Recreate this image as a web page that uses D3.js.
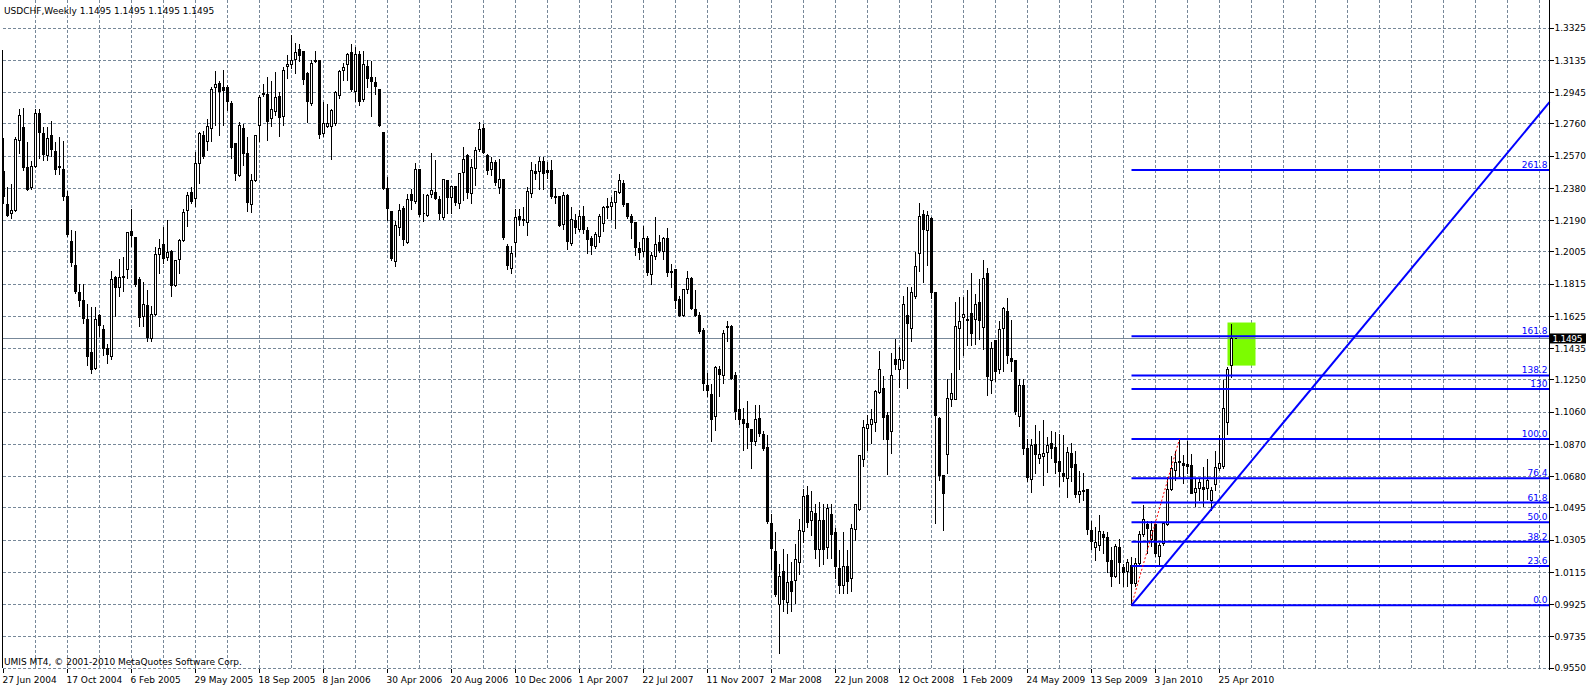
<!DOCTYPE html>
<html>
<head>
<meta charset="utf-8">
<script src="https://cdnjs.cloudflare.com/ajax/libs/d3/7.8.5/d3.min.js"></script>
<style>
  body { margin: 0; background: #fff; overflow: hidden; }
  svg text { font-family: Tahoma, "DejaVu Sans", sans-serif; font-size: 9px; }
</style>
</head>
<body>
<div id="chart"></div>
<script>
var svgWidth = 1586;
var svgHeight = 687;

// plot box (right edge = price axis line)
var plot = { left: 2.5, right: 1549.5, top: 0, bottom: 668.2 };

var titleText = 'USDCHF,Weekly  1.1495 1.1495 1.1495 1.1495';
var copyrightText = 'UMIS MT4, \u00a9 2001-2010 MetaQuotes Software Corp.';

var priceTicks = ['1.3325', '1.3135', '1.2945', '1.2760', '1.2570', '1.2380', '1.2190',
  '1.2005', '1.1815', '1.1625', '1.1435', '1.1250', '1.1060', '1.0870', '1.0680',
  '1.0495', '1.0305', '1.0115', '0.9925', '0.9735', '0.9550'];

// one label every 16 weekly bars, starting at bar 0
var dateTicks = ['27 Jun 2004', '17 Oct 2004', '6 Feb 2005', '29 May 2005', '18 Sep 2005',
  '8 Jan 2006', '30 Apr 2006', '20 Aug 2006', '10 Dec 2006', '1 Apr 2007', '22 Jul 2007',
  '11 Nov 2007', '2 Mar 2008', '22 Jun 2008', '12 Oct 2008', '1 Feb 2009', '24 May 2009',
  '13 Sep 2009', '3 Jan 2010', '25 Apr 2010'];

var lastPrice = 1.1495;

// weekly bars: [open, high, low, close]
var bars = [
  [1.2479, 1.2681, 1.2292, 1.2331], [1.2288, 1.2390, 1.2213, 1.2223], [1.2233, 1.2410, 1.2203, 1.2251],
  [1.2251, 1.2689, 1.2243, 1.2671], [1.2665, 1.2850, 1.2587, 1.2813], [1.2740, 1.2858, 1.2488, 1.2502],
  [1.2502, 1.2655, 1.2370, 1.2376], [1.2386, 1.2543, 1.2374, 1.2508], [1.2508, 1.2852, 1.2504, 1.2823],
  [1.2823, 1.2850, 1.2557, 1.2710], [1.2705, 1.2744, 1.2543, 1.2579], [1.2573, 1.2748, 1.2543, 1.2675],
  [1.2693, 1.2779, 1.2567, 1.2610], [1.2600, 1.2655, 1.2465, 1.2492], [1.2508, 1.2685, 1.2465, 1.2506],
  [1.2492, 1.2665, 1.2307, 1.2331], [1.2333, 1.2370, 1.2095, 1.2107], [1.2064, 1.2138, 1.1918, 1.1942],
  [1.1928, 1.2129, 1.1761, 1.1769], [1.1767, 1.1820, 1.1686, 1.1720], [1.1720, 1.1820, 1.1584, 1.1611],
  [1.1604, 1.1702, 1.1338, 1.1387], [1.1411, 1.1686, 1.1289, 1.1313], [1.1319, 1.1682, 1.1309, 1.1604],
  [1.1633, 1.1643, 1.1505, 1.1572], [1.1545, 1.1580, 1.1397, 1.1437], [1.1437, 1.1466, 1.1348, 1.1403],
  [1.1387, 1.1893, 1.1368, 1.1844], [1.1853, 1.1869, 1.1623, 1.1796], [1.1796, 1.1965, 1.1741, 1.1855],
  [1.1855, 1.1977, 1.1771, 1.1859], [1.1899, 1.2125, 1.1849, 1.2119], [1.2123, 1.2262, 1.2036, 1.2101],
  [1.2091, 1.2095, 1.1800, 1.1814], [1.1844, 1.1859, 1.1564, 1.1619], [1.1623, 1.1830, 1.1568, 1.1698],
  [1.1692, 1.1781, 1.1476, 1.1501], [1.1495, 1.1692, 1.1476, 1.1639], [1.1639, 1.2036, 1.1633, 1.1993],
  [1.1991, 1.2085, 1.1879, 1.2026], [1.2052, 1.2154, 1.1938, 1.1967], [1.1973, 1.2197, 1.1957, 1.2001],
  [1.2007, 1.2017, 1.1741, 1.1806], [1.1810, 1.1957, 1.1800, 1.1952], [1.1961, 1.2085, 1.1879, 1.2070],
  [1.2072, 1.2262, 1.2066, 1.2235], [1.2251, 1.2361, 1.2154, 1.2337], [1.2353, 1.2390, 1.2292, 1.2302],
  [1.2321, 1.2597, 1.2272, 1.2528], [1.2528, 1.2715, 1.2410, 1.2701], [1.2695, 1.2724, 1.2557, 1.2567],
  [1.2659, 1.2793, 1.2606, 1.2744], [1.2734, 1.2980, 1.2655, 1.2964], [1.2976, 1.3074, 1.2754, 1.2994],
  [1.3000, 1.3019, 1.2695, 1.2950], [1.2976, 1.3082, 1.2754, 1.2960], [1.2976, 1.2990, 1.2842, 1.2891],
  [1.2881, 1.2901, 1.2557, 1.2622], [1.2642, 1.2646, 1.2425, 1.2469], [1.2455, 1.2773, 1.2449, 1.2754],
  [1.2734, 1.2763, 1.2518, 1.2587], [1.2583, 1.2689, 1.2243, 1.2296], [1.2288, 1.2469, 1.2237, 1.2425],
  [1.2425, 1.2695, 1.2419, 1.2691], [1.2754, 1.2931, 1.2655, 1.2917], [1.2935, 1.3000, 1.2921, 1.2940],
  [1.2931, 1.3043, 1.2665, 1.2773], [1.2793, 1.3019, 1.2744, 1.2848], [1.2832, 1.3068, 1.2813, 1.2917],
  [1.2921, 1.2950, 1.2689, 1.2799], [1.2803, 1.3098, 1.2754, 1.3074], [1.3098, 1.3172, 1.3029, 1.3108],
  [1.3108, 1.3290, 1.3088, 1.3137], [1.3141, 1.3239, 1.3058, 1.3182], [1.3202, 1.3235, 1.3127, 1.3163],
  [1.3190, 1.3196, 1.2990, 1.3023], [1.3058, 1.3068, 1.2767, 1.2891], [1.2881, 1.3141, 1.2872, 1.3117],
  [1.3133, 1.3192, 1.3123, 1.3127], [1.3137, 1.3141, 1.2675, 1.2699], [1.2705, 1.2891, 1.2685, 1.2763],
  [1.2748, 1.2881, 1.2740, 1.2763], [1.2748, 1.2852, 1.2551, 1.2842], [1.2760, 1.2960, 1.2754, 1.2946],
  [1.2927, 1.3082, 1.2911, 1.3072], [1.3074, 1.3123, 1.3015, 1.3094], [1.3108, 1.3180, 1.3019, 1.3172],
  [1.3180, 1.3235, 1.2950, 1.2966], [1.2954, 1.3216, 1.2891, 1.3172], [1.3167, 1.3196, 1.2872, 1.2891],
  [1.2905, 1.3192, 1.2891, 1.3108], [1.3102, 1.3141, 1.2976, 1.3029], [1.3033, 1.3137, 1.2803, 1.3009],
  [1.3003, 1.3039, 1.2931, 1.2980], [1.2966, 1.2970, 1.2744, 1.2750], [1.2710, 1.2714, 1.2374, 1.2380],
  [1.2380, 1.2449, 1.2193, 1.2262], [1.2243, 1.2252, 1.1954, 1.1967], [1.1948, 1.2193, 1.1918, 1.2164],
  [1.2150, 1.2290, 1.2100, 1.2252], [1.2263, 1.2282, 1.2046, 1.2076], [1.2062, 1.2351, 1.2056, 1.2312],
  [1.2347, 1.2381, 1.2253, 1.2308], [1.2302, 1.2532, 1.2292, 1.2493], [1.2489, 1.2499, 1.2213, 1.2227],
  [1.2233, 1.2351, 1.2184, 1.2231], [1.2219, 1.2351, 1.2217, 1.2337], [1.2345, 1.2593, 1.2327, 1.2365],
  [1.2357, 1.2548, 1.2312, 1.2322], [1.2316, 1.2341, 1.2194, 1.2233], [1.2209, 1.2440, 1.2194, 1.2430],
  [1.2424, 1.2430, 1.2233, 1.2326], [1.2326, 1.2400, 1.2233, 1.2390], [1.2394, 1.2400, 1.2282, 1.2296],
  [1.2292, 1.2473, 1.2263, 1.2469], [1.2473, 1.2626, 1.2308, 1.2552], [1.2577, 1.2587, 1.2322, 1.2355],
  [1.2351, 1.2557, 1.2292, 1.2504], [1.2498, 1.2626, 1.2400, 1.2603], [1.2607, 1.2774, 1.2597, 1.2730],
  [1.2734, 1.2764, 1.2583, 1.2591], [1.2577, 1.2587, 1.2465, 1.2483], [1.2489, 1.2567, 1.2459, 1.2534],
  [1.2534, 1.2548, 1.2400, 1.2414], [1.2386, 1.2557, 1.2351, 1.2434], [1.2434, 1.2440, 1.2076, 1.2090],
  [1.2036, 1.2056, 1.1899, 1.1928], [1.1909, 1.2046, 1.1879, 1.1997], [1.2062, 1.2263, 1.1977, 1.2209],
  [1.2213, 1.2263, 1.2164, 1.2194], [1.2194, 1.2272, 1.2164, 1.2188], [1.2178, 1.2394, 1.2105, 1.2361],
  [1.2351, 1.2538, 1.2327, 1.2483], [1.2477, 1.2528, 1.2430, 1.2469], [1.2479, 1.2567, 1.2371, 1.2538],
  [1.2538, 1.2567, 1.2375, 1.2469], [1.2485, 1.2538, 1.2440, 1.2473], [1.2483, 1.2552, 1.2322, 1.2335],
  [1.2335, 1.2386, 1.2292, 1.2327], [1.2331, 1.2341, 1.2154, 1.2160], [1.2170, 1.2361, 1.2135, 1.2341],
  [1.2341, 1.2351, 1.2017, 1.2066], [1.2056, 1.2272, 1.2046, 1.2194], [1.2188, 1.2233, 1.2115, 1.2149],
  [1.2135, 1.2253, 1.2125, 1.2217], [1.2213, 1.2282, 1.2115, 1.2135], [1.2129, 1.2154, 1.1997, 1.2076],
  [1.2086, 1.2105, 1.1993, 1.2046], [1.2036, 1.2125, 1.2027, 1.2111], [1.2095, 1.2230, 1.2060, 1.2213],
  [1.2174, 1.2282, 1.2125, 1.2268], [1.2276, 1.2327, 1.2204, 1.2268], [1.2272, 1.2331, 1.2194, 1.2298],
  [1.2298, 1.2367, 1.2145, 1.2361], [1.2355, 1.2469, 1.2351, 1.2424], [1.2410, 1.2430, 1.2276, 1.2286],
  [1.2292, 1.2296, 1.2204, 1.2213], [1.2217, 1.2233, 1.2086, 1.2180], [1.2178, 1.2184, 1.1987, 1.2030],
  [1.2027, 1.2066, 1.1958, 1.2003], [1.2007, 1.2164, 1.1977, 1.2086], [1.2086, 1.2105, 1.1869, 1.1883],
  [1.1875, 1.2007, 1.1814, 1.1987], [1.1981, 1.2217, 1.1958, 1.2052], [1.2062, 1.2111, 1.2001, 1.2013],
  [1.2007, 1.2095, 1.1958, 1.2086], [1.2082, 1.2150, 1.1859, 1.1885], [1.1889, 1.1938, 1.1797, 1.1883],
  [1.1899, 1.1903, 1.1673, 1.1718], [1.1726, 1.1751, 1.1624, 1.1633], [1.1633, 1.1791, 1.1624, 1.1781],
  [1.1781, 1.1893, 1.1761, 1.1846], [1.1846, 1.1859, 1.1663, 1.1673], [1.1663, 1.1785, 1.1624, 1.1633],
  [1.1628, 1.1653, 1.1525, 1.1535], [1.1539, 1.1561, 1.1187, 1.1230], [1.1220, 1.1293, 1.1152, 1.1187],
  [1.1165, 1.1230, 1.0886, 1.1018], [1.1034, 1.1333, 1.0951, 1.1325], [1.1309, 1.1333, 1.1152, 1.1283],
  [1.1279, 1.1549, 1.1230, 1.1525], [1.1561, 1.1598, 1.1476, 1.1565], [1.1565, 1.1580, 1.1254, 1.1260],
  [1.1279, 1.1299, 1.1014, 1.1063], [1.1073, 1.1191, 1.0985, 1.1014], [1.1014, 1.1089, 1.0837, 1.0994],
  [1.0994, 1.1128, 1.0847, 1.0969], [1.0959, 1.0965, 1.0729, 1.0886], [1.0886, 1.1103, 1.0861, 1.1018],
  [1.1024, 1.1107, 1.0916, 1.0935], [1.0931, 1.0955, 1.0833, 1.0847], [1.0853, 1.0931, 1.0405, 1.0414],
  [1.0405, 1.0464, 1.0133, 1.0257], [1.0241, 1.0356, 0.9972, 0.9982], [0.9927, 1.0169, 0.9638, 1.0090],
  [1.0120, 1.0257, 0.9884, 0.9956], [0.9937, 1.0228, 0.9870, 1.0055], [1.0061, 1.0178, 0.9884, 1.0002],
  [1.0066, 1.0287, 0.9933, 1.0189], [1.0173, 1.0434, 1.0100, 1.0365], [1.0355, 1.0611, 1.0290, 1.0562],
  [1.0566, 1.0625, 1.0380, 1.0409], [1.0424, 1.0601, 1.0330, 1.0474], [1.0460, 1.0523, 1.0200, 1.0250],
  [1.0250, 1.0533, 1.0150, 1.0424], [1.0420, 1.0523, 1.0160, 1.0250], [1.0260, 1.0523, 1.0200, 1.0493],
  [1.0454, 1.0523, 1.0200, 1.0336], [1.0350, 1.0380, 1.0080, 1.0150], [1.0140, 1.0250, 0.9990, 1.0040],
  [1.0040, 1.0356, 0.9990, 1.0150], [1.0150, 1.0250, 0.9990, 1.0060], [1.0080, 1.0405, 1.0000, 1.0375],
  [1.0369, 1.0523, 1.0306, 1.0513], [1.0487, 1.0808, 1.0483, 1.0804], [1.0782, 1.1014, 1.0739, 1.0971],
  [1.0965, 1.1044, 1.0837, 1.0989], [1.0985, 1.1083, 1.0876, 1.1014], [1.0998, 1.1191, 1.0945, 1.1181],
  [1.1177, 1.1423, 1.1171, 1.1309], [1.1197, 1.1279, 1.0900, 1.1028], [1.1038, 1.1063, 1.0690, 1.0900],
  [1.0949, 1.1413, 1.0817, 1.1274], [1.1368, 1.1496, 1.1309, 1.1342], [1.1309, 1.1447, 1.1207, 1.1372],
  [1.1364, 1.1751, 1.1319, 1.1698], [1.1633, 1.1800, 1.1201, 1.1584], [1.1555, 1.1800, 1.1476, 1.1767],
  [1.1741, 1.2007, 1.1732, 1.1922], [1.1997, 1.2298, 1.1889, 1.2217], [1.2227, 1.2253, 1.1824, 1.2139],
  [1.2129, 1.2249, 1.1928, 1.2223], [1.2203, 1.2213, 1.1732, 1.1765], [1.1767, 1.1771, 1.0405, 1.1038],
  [1.1024, 1.1034, 1.0660, 1.0684], [1.0684, 1.0690, 1.0365, 1.0582], [1.0808, 1.1260, 1.0700, 1.1142],
  [1.1136, 1.1293, 1.1093, 1.1171], [1.1136, 1.1712, 1.1132, 1.1565], [1.1555, 1.1741, 1.1309, 1.1594],
  [1.1618, 1.1741, 1.1397, 1.1637], [1.1608, 1.1781, 1.1456, 1.1600], [1.1643, 1.1883, 1.1456, 1.1525],
  [1.1604, 1.1761, 1.1462, 1.1698], [1.1708, 1.1850, 1.1486, 1.1600], [1.1561, 1.1962, 1.1431, 1.1850],
  [1.1879, 1.1915, 1.1156, 1.1270], [1.1246, 1.1476, 1.1171, 1.1437], [1.1480, 1.1486, 1.1240, 1.1303],
  [1.1309, 1.1600, 1.1290, 1.1545], [1.1555, 1.1686, 1.1299, 1.1673], [1.1653, 1.1738, 1.1348, 1.1393],
  [1.1378, 1.1604, 1.1299, 1.1358], [1.1362, 1.1368, 1.1049, 1.1063], [1.1034, 1.1260, 1.0975, 1.1220],
  [1.1220, 1.1260, 1.0808, 1.0847], [1.0847, 1.0906, 1.0650, 1.0676], [1.0664, 1.0906, 1.0585, 1.0861],
  [1.0867, 1.0990, 1.0699, 1.0808], [1.0788, 1.0955, 1.0758, 1.0808], [1.0798, 1.1018, 1.0625, 1.0817],
  [1.0823, 1.0916, 1.0703, 1.0863], [1.0876, 1.0955, 1.0788, 1.0847], [1.0853, 1.0945, 1.0699, 1.0762],
  [1.0768, 1.0935, 1.0621, 1.0709], [1.0699, 1.0931, 1.0650, 1.0680], [1.0670, 1.0857, 1.0558, 1.0821],
  [1.0817, 1.0880, 1.0650, 1.0735], [1.0749, 1.0837, 1.0558, 1.0572], [1.0576, 1.0715, 1.0527, 1.0595],
  [1.0601, 1.0705, 1.0538, 1.0591], [1.0605, 1.0609, 1.0336, 1.0369], [1.0365, 1.0424, 1.0251, 1.0300],
  [1.0263, 1.0385, 1.0188, 1.0293], [1.0271, 1.0454, 1.0247, 1.0355], [1.0336, 1.0365, 1.0228, 1.0320],
  [1.0322, 1.0355, 1.0113, 1.0178], [1.0184, 1.0267, 1.0031, 1.0090], [1.0090, 1.0287, 1.0086, 1.0267],
  [1.0263, 1.0316, 1.0051, 1.0173], [1.0145, 1.0169, 1.0031, 1.0114], [1.0120, 1.0198, 1.0031, 1.0173],
  [1.0153, 1.0208, 0.9921, 1.0051], [1.0051, 1.0202, 1.0031, 1.0169], [1.0165, 1.0365, 1.0149, 1.0340],
  [1.0336, 1.0513, 1.0326, 1.0428], [1.0399, 1.0424, 1.0228, 1.0373], [1.0310, 1.0424, 1.0267, 1.0365],
  [1.0395, 1.0395, 1.0208, 1.0228], [1.0208, 1.0291, 1.0149, 1.0271], [1.0283, 1.0405, 1.0271, 1.0405],
  [1.0395, 1.0680, 1.0389, 1.0605], [1.0605, 1.0802, 1.0601, 1.0729], [1.0715, 1.0837, 1.0660, 1.0762],
  [1.0772, 1.0902, 1.0680, 1.0764], [1.0755, 1.0808, 1.0641, 1.0743], [1.0749, 1.0892, 1.0696, 1.0739],
  [1.0743, 1.0817, 1.0578, 1.0582], [1.0587, 1.0670, 1.0503, 1.0611], [1.0611, 1.0674, 1.0538, 1.0646],
  [1.0617, 1.0739, 1.0503, 1.0605], [1.0611, 1.0784, 1.0546, 1.0656], [1.0542, 1.0621, 1.0483, 1.0601],
  [1.0631, 1.0837, 1.0601, 1.0735], [1.0729, 1.0926, 1.0719, 1.0759], [1.0739, 1.1250, 1.0729, 1.1083],
  [1.0998, 1.1329, 1.0926, 1.1313], [1.1333, 1.1584, 1.1266, 1.1495], [1.1495, 1.1495, 1.1495, 1.1495]
];

// Fibonacci retracement anchors (bar index, price)
var fibStart = [282, 0.9921];
var fibEnd = [294, 1.0902];
var fibLevels = [0, 23.6, 38.2, 50, 61.8, 76.4, 100, 130, 138.2, 161.8, 261.8];
var fibLabels = ['0.0', '23.6', '38.2', '50.0', '61.8', '76.4', '100.0', '130', '138.2', '161.8', '261.8'];

// trend line ray (bar index, price)
var trendA = [282, 0.9921];
var trendB = [347.5, 1.1781];

// green rectangle (bars, prices)
var boxBars = [306, 313];
var boxPrices = [1.1335, 1.1589];

var svg = d3.select('#chart')
  .append('svg')
  .attr('width', svgWidth)
  .attr('height', svgHeight);

var x = d3.scaleLinear().domain([0, 386]).range([3.5, 3.5 + 4 * 386]);
var y = d3.scaleLinear().domain([0.9550, 1.3325]).range([plot.bottom, 28.2]);

function crisp(v) { return Math.round(v - 0.5) + 0.5; }

var gridColor = '#778899';

// grid
var grid = svg.append('g').attr('shape-rendering', 'crispEdges');
grid.selectAll('.hgrid')
  .data(priceTicks)
  .enter()
  .append('line')
  .attr('x1', plot.left).attr('x2', plot.right)
  .attr('y1', d => crisp(y(+d))).attr('y2', d => crisp(y(+d)))
  .attr('stroke', gridColor)
  .attr('stroke-dasharray', '3,2');

grid.selectAll('.vgrid')
  .data(d3.range(8, 386, 8))
  .enter()
  .append('line')
  .attr('x1', d => x(d)).attr('x2', d => x(d))
  .attr('y1', 0).attr('y2', plot.bottom)
  .attr('stroke', gridColor)
  .attr('stroke-dasharray', '3,2');

// green box (background object)
svg.append('rect')
  .attr('x', x(boxBars[0]))
  .attr('y', y(boxPrices[1]))
  .attr('width', x(boxBars[1]) - x(boxBars[0]))
  .attr('height', y(boxPrices[0]) - y(boxPrices[1]))
  .attr('fill', '#7cfc00');

// bid line
svg.append('line')
  .attr('x1', plot.left).attr('x2', plot.right)
  .attr('y1', crisp(y(lastPrice))).attr('y2', crisp(y(lastPrice)))
  .attr('stroke', gridColor)
  .attr('shape-rendering', 'crispEdges');

// left border
svg.append('line')
  .attr('x1', plot.left).attr('x2', plot.left)
  .attr('y1', 50).attr('y2', plot.bottom)
  .attr('stroke', '#000')
  .attr('shape-rendering', 'crispEdges');

// candles
var candles = svg.append('g')
  .attr('shape-rendering', 'crispEdges')
  .selectAll('g')
  .data(bars)
  .enter()
  .append('g');

candles.append('line')
  .attr('x1', (d, i) => x(i)).attr('x2', (d, i) => x(i))
  .attr('y1', d => crisp(y(d[1]))).attr('y2', d => crisp(y(d[2])))
  .attr('stroke', '#000');

candles.append('path')
  .attr('d', function (d, i) {
    var top = crisp(y(Math.max(d[0], d[3])));
    var bot = crisp(y(Math.min(d[0], d[3])));
    var cx = x(i);
    return 'M' + (cx - 1) + ',' + top + 'H' + (cx + 1) + 'V' + bot + 'H' + (cx - 1) + 'Z';
  })
  .attr('fill', d => d[3] >= d[0] ? '#fff' : '#000')
  .attr('stroke', '#000');

// fibonacci levels
var fibRange = fibEnd[1] - fibStart[1];
var fib = svg.append('g');
fib.selectAll('line')
  .data(fibLevels)
  .enter()
  .append('line')
  .attr('x1', x(fibStart[0])).attr('x2', plot.right)
  .attr('y1', d => y(fibStart[1] + fibRange * d / 100))
  .attr('y2', d => y(fibStart[1] + fibRange * d / 100))
  .attr('stroke', '#0000ff')
  .attr('stroke-width', 2);

fib.selectAll('text')
  .data(fibLevels)
  .enter()
  .append('text')
  .attr('x', plot.right - 2)
  .attr('y', d => y(fibStart[1] + fibRange * d / 100) - 2)
  .attr('text-anchor', 'end')
  .attr('fill', '#0000ff')
  .text((d, i) => fibLabels[i]);

// red dotted anchor line
svg.append('line')
  .attr('x1', x(fibStart[0])).attr('y1', y(fibStart[1]))
  .attr('x2', x(fibEnd[0])).attr('y2', y(fibEnd[1]))
  .attr('stroke', '#ff0000')
  .attr('stroke-dasharray', '2,2');

// trend line extended to the right edge
var slope = (trendB[1] - trendA[1]) / (trendB[0] - trendA[0]);
var endBar = x.invert(plot.right);
svg.append('line')
  .attr('x1', x(trendA[0])).attr('y1', y(trendA[1]))
  .attr('x2', x(endBar)).attr('y2', y(trendA[1] + slope * (endBar - trendA[0])))
  .attr('stroke', '#0000ff')
  .attr('stroke-width', 2);

// price axis
svg.append('line')
  .attr('x1', plot.right).attr('x2', plot.right)
  .attr('y1', 0).attr('y2', plot.bottom + 2)
  .attr('stroke', '#000')
  .attr('shape-rendering', 'crispEdges');

var yAxis = svg.append('g');
yAxis.selectAll('line')
  .data(priceTicks)
  .enter()
  .append('line')
  .attr('x1', plot.right).attr('x2', plot.right + 4)
  .attr('y1', d => crisp(y(+d))).attr('y2', d => crisp(y(+d)))
  .attr('stroke', '#000')
  .attr('shape-rendering', 'crispEdges');

yAxis.selectAll('text')
  .data(priceTicks)
  .enter()
  .append('text')
  .attr('x', plot.right + 5)
  .attr('y', d => y(+d))
  .attr('dy', '0.35em')
  .attr('fill', '#000')
  .text(d => d);

// current price marker
svg.append('rect')
  .attr('x', plot.right + 0.5)
  .attr('y', y(lastPrice) - 5)
  .attr('width', svgWidth - plot.right - 0.5)
  .attr('height', 10)
  .attr('fill', '#000');
svg.append('text')
  .attr('x', plot.right + 3)
  .attr('y', y(lastPrice))
  .attr('dy', '0.35em')
  .attr('fill', '#fff')
  .style('letter-spacing', '-0.3px')
  .text(lastPrice.toFixed(4));

// time axis
var xAxis = svg.append('g');
xAxis.selectAll('line')
  .data(dateTicks)
  .enter()
  .append('line')
  .attr('x1', (d, i) => x(i * 16)).attr('x2', (d, i) => x(i * 16))
  .attr('y1', crisp(plot.bottom)).attr('y2', plot.bottom + 5)
  .attr('stroke', '#000')
  .attr('shape-rendering', 'crispEdges');

xAxis.selectAll('text')
  .data(dateTicks)
  .enter()
  .append('text')
  .attr('x', (d, i) => x(i * 16) - 1)
  .attr('y', 683)
  .attr('fill', '#000')
  .text(d => d);

// title and copyright
svg.append('text')
  .attr('x', 4).attr('y', 14)
  .attr('fill', '#000')
  .text(titleText);

svg.append('text')
  .attr('x', 4).attr('y', 665)
  .attr('fill', '#000')
  .text(copyrightText);
</script>
</body>
</html>
